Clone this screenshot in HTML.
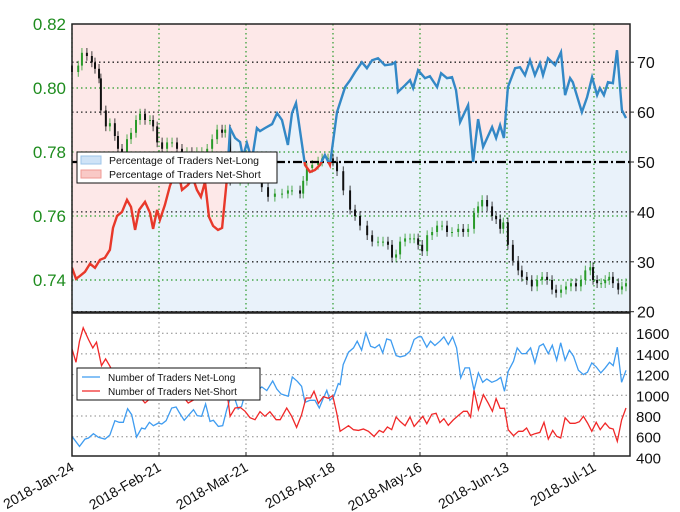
<!DOCTYPE html>
<html><head><meta charset="utf-8"><style>
body{margin:0;background:#fff}
svg{display:block;font-family:"Liberation Sans","DejaVu Sans",sans-serif}
</style></head><body>
<svg id="c" width="680" height="512" viewBox="0 0 680 512">
<defs>
<clipPath id="topClip"><rect x="72" y="24" width="558" height="288"/></clipPath>
<clipPath id="aboveHalf"><rect x="72" y="0" width="558" height="162"/></clipPath>
<clipPath id="belowHalf"><rect x="72" y="162" width="558" height="160"/></clipPath>
<clipPath id="botClip"><rect x="72" y="313" width="558" height="143"/></clipPath>
</defs>
<g id="topPanel"></g>
<g id="botPanel"></g>
</svg>
<script>
const dateLabels=["2018-Jan-24","2018-Feb-21","2018-Mar-21","2018-Apr-18","2018-May-16","2018-Jun-13","2018-Jul-11"];
const dateTickDays=[0,28,56,84,112,140,168];
const priceTicks=[0.74,0.76,0.78,0.80,0.82];
const pctTicks=[20,30,40,50,60,70];
const countTicks=[400,600,800,1000,1200,1400,1600];
const pctDays=[0,1.3,2.6,4.2,5.8,7.4,9,10.6,12.2,13.2,14.5,16.1,17.7,19,20.3,21.6,23.5,25.1,26.1,27.4,28.3,29.9,31.5,32.5,33.2,34.1,35.4,37.3,38.9,40.2,41.5,42.8,44.1,45.4,47,48.3,49.9,50.9,52.5,54.1,55,56.3,57.9,59.5,60.5,62.1,64.4,66,67.6,69.5,70.8,72.1,75,76.6,78.2,79.8,81.4,83,84,85.3,87.9,89.5,91.1,93.3,94.9,96.6,98.5,100.7,103,104,104.9,107.2,108.8,109.8,111.4,113.6,115.2,117.5,118.8,120.7,122.3,123.6,124.9,127.5,129.1,130.7,132.3,135.2,136.5,137.8,139,140.3,142.6,144.2,145.8,147.4,149,150.6,151.6,153.2,155.5,157.4,158.7,160.3,161.2,164.1,165.8,167.4,169,169.9,171.2,172.5,174.1,175.4,177,178.3];
const pctVals=[28.8,26.6,27.2,28,29.6,28.8,30.4,30.8,32.4,36.8,39.2,40,42.4,41,36.4,40.4,42,39.8,36.6,40.4,38.4,41.4,45.2,46.8,50.4,48.4,44.4,45.4,46.8,44.4,43,46,39,37.2,36.4,36.8,46.8,56.8,54.8,54,51,53.8,50.4,56.8,56.2,56.8,57.6,59.8,58.4,53.4,59.8,61.8,49.4,48,48.4,49.4,51.4,49.4,54,60,65,66.4,68,70,68.8,70.4,70.8,69.4,69.6,70,64,65.4,66.4,64.8,68.4,66.8,67.2,65,67.8,66.8,67,64.4,58,61.4,50,58.6,53,57,54.8,57.4,54.8,65,68.8,69,67.4,70.4,67.4,69.8,67.4,70.8,69.4,72,63.4,66.8,66,60,63,67,63.4,64.8,63.4,66,65.8,72.4,60.4,58.8];
const priceDays=[0,2,3.2,4.8,6.4,7.4,8.7,9.3,10.9,12.2,13.8,14.8,16.1,17.7,19,20.6,21.9,23.5,25.1,26.1,27.4,29,30.6,32.2,33.8,35.4,37,38.6,40.2,41.8,43.5,45.1,46.7,48.3,49.3,50.9,54.1,56.7,59,61.1,63.1,65.3,67.6,69.5,70.8,73.4,74.4,75.6,77.3,79.2,80.5,82.4,84,85.3,87.3,89.5,91.1,92.7,95,96.6,98.5,100.1,101.7,103,104.3,105.6,107.2,108.8,110.1,111.4,112.7,114.3,115.9,117.5,119.1,120.7,122.3,124.3,125.9,127.5,129.4,130.7,132,133.6,135.2,136.5,137.8,138.8,140.3,141.9,143.6,144.8,146.4,148,149.7,151.3,152.9,154.5,155.8,157.4,159,160.6,162.2,163.8,165.2,166.8,167.7,169,170.3,171.6,172.9,174.1,175.8,177,178.3];
const priceClose=[.805,.807,.811,.810,.808,.806,.803,.793,.788,.789,.785,.781,.780,.784,.786,.790,.792,.790,.790,.788,.783,.781,.783,.783,.781,.780,.780,.778,.780,.780,.781,.784,.787,.786,.787,.771,.771,.772,.772,.769,.766,.767,.767,.768,.768,.767,.771,.775,.776,.777,.778,.778,.777,.774,.768,.762,.760,.757,.754,.752,.752,.752,.751,.747,.748,.752,.753,.753,.753,.751,.749,.754,.755,.757,.757,.755,.755,.756,.755,.756,.761,.763,.765,.763,.760,.759,.756,.758,.751,.746,.743,.741,.740,.738,.740,.741,.740,.737,.736,.737,.738,.739,.738,.740,.743,.744,.740,.739,.739,.740,.741,.739,.737,.738,.739];
const longDays=[0,2.4,4.2,5.3,6.9,8.5,10.6,12.2,13.8,15.2,16.5,17.9,19.2,20.8,22.4,23.5,24.9,26.2,27.8,28.9,30.3,32.1,33.5,34.5,36.1,37.4,39.1,40.3,41.7,43,44.4,45.5,47.1,48.5,49.8,51.2,52.5,53.5,54.6,56.2,57.8,59.4,61.1,62.7,64.6,65.9,67.3,69.6,70.9,72.5,73.9,75,76.6,78.2,79.6,80.9,82,83,84.3,85.7,86.3,87.3,89,90.6,91.8,93.2,94.6,96.1,97.5,98.9,100,101.3,102.6,104.3,105.6,107.2,108.8,110.1,111.5,112.5,114.2,115.4,116.8,118.4,119.7,121.1,122.5,123.8,125.1,126.5,127.9,129.4,130.8,132.2,133.5,135.1,136.7,138,139.2,140.4,142.1,143.3,144.7,146.1,147.6,149,150.4,151.7,153.3,154.6,156,157.3,158.7,160.1,161.4,163,164.6,165.9,167.3,168.7,170.2,171.6,173,174.2,175.5,176.9,178.3];
const longVals=[603,506,577,587,629,594,577,616,755,739,739,871,813,597,684,674,739,706,732,723,755,877,887,835,758,803,861,803,797,916,748,758,700,706,861,997,958,868,894,1071,1048,1039,1081,1045,1139,1061,1013,990,1177,1135,1087,932,952,952,877,974,1048,952,990,1113,1103,1297,1416,1458,1523,1436,1603,1474,1458,1490,1410,1545,1532,1384,1371,1384,1426,1539,1565,1565,1465,1523,1481,1523,1565,1490,1565,1458,1168,1265,1265,1048,1216,1126,1158,1126,1145,1174,1039,1232,1329,1458,1403,1403,1458,1313,1474,1497,1403,1484,1339,1507,1339,1436,1378,1242,1200,1223,1313,1274,1216,1265,1319,1287,1465,1126,1242];
const shortDays=[0,1.3,2.4,3.6,5.3,6.7,7.9,9.5,10.8,12.2,13.8,17.6,20.8,23.5,27.3,31.5,34.8,37.4,41.2,45.5,49.8,50.9,52.5,54.1,55.7,57.3,58.9,60.5,62.1,63.7,65.7,67,69.1,70.7,72.3,73.9,75.3,76.8,77.9,79.3,80.9,82.5,83.9,85.2,86.3,87.9,89,90.6,92.2,93.8,95.4,97.2,98.9,100.2,101.5,102.9,104.3,105.6,107.2,108.8,110.1,111.5,112.9,114.2,115.8,117.2,118.4,119.7,121.1,122.7,124.4,126,127.2,128.3,129.4,130.8,132.4,134,135.3,136.5,137.8,139.2,140.4,142.1,143.7,145.1,146.3,147.6,149,150.6,151.9,153.3,154.7,156,157.3,158.7,160.3,161.9,163.3,164.6,165.9,167.3,168.7,170,171.6,173,174.2,175.5,176.9,178.3];
const shortVals=[1448,1319,1523,1652,1539,1458,1513,1287,1352,1281,1184,1150,1023,926,1023,990,1023,926,990,1023,1055,797,877,884,845,784,764,842,797,842,764,764,877,797,690,813,974,974,1039,922,987,971,997,829,652,684,706,668,661,674,652,603,661,642,694,668,790,748,706,790,700,748,797,726,816,826,736,774,710,761,806,845,845,790,1048,861,1006,923,845,968,874,874,668,610,652,652,684,613,629,642,739,577,661,603,587,784,729,729,745,797,732,652,739,668,732,684,674,555,761,877];

const NS="http://www.w3.org/2000/svg";
const X0=72,X1=630,TT=24,TB=312,BT=313,BB=456;
const xd=d=>X0+d*3.107;
const yP=v=>TT+(0.82-v)*3200;
const yR=p=>162-(p-50)*4.99;
const yN=v=>395.3-(v-1000)*0.1035;
function mk(tag,attrs,parent){const e=document.createElementNS(NS,tag);for(const k in attrs)e.setAttribute(k,attrs[k]);parent.appendChild(e);return e;}
const topG=document.getElementById('topPanel'),botG=document.getElementById('botPanel');

let bg=mk('rect',{x:X0,y:TT,width:X1-X0,height:TB-TT,fill:'#fde8e8'},topG);


let pts=pctDays.map((d,i)=>xd(d).toFixed(1)+','+yR(pctVals[i]).toFixed(1));
let fillPts=xd(pctDays[0])+','+TB+' '+pts.join(' ')+' '+X1+','+yR(pctVals[pctVals.length-1])+' '+X1+','+TB;
let fl=mk('polygon',{points:fillPts,fill:'#e9f2fa','clip-path':'url(#topClip)'},topG);


dateTickDays.forEach(d=>{let l=mk('line',{x1:xd(d),x2:xd(d),y1:TT,y2:TB,stroke:'#2a9a2a','stroke-width':1.2,'stroke-dasharray':'1.5,3'},topG);

});
priceTicks.forEach(v=>{if(v>=0.82)return;let l=mk('line',{x1:X0,x2:X1,y1:yP(v),y2:yP(v),stroke:'#2a9a2a','stroke-width':1.2,'stroke-dasharray':'1.5,3'},topG);

});
pctTicks.forEach(p=>{if(p===50)return;let l=mk('line',{x1:X0,x2:X1,y1:yR(p),y2:yR(p),stroke:'#222','stroke-width':1.3,'stroke-dasharray':'1.5,3'},topG);

});
priceClose.forEach((c,i)=>{const o=i?priceClose[i-1]:c+0.002;const x=xd(priceDays[i]);const col=c>=o?'#2a9a2a':'#111';
let w=mk('line',{x1:x,x2:x,y1:yP(Math.max(o,c)+0.0015),y2:yP(Math.min(o,c)-0.0015),stroke:col,'stroke-width':0.8},topG);


let b=mk('rect',{x:x-1,y:yP(Math.max(o,c)),width:2,height:Math.max(1,Math.abs(yP(o)-yP(c))),fill:col},topG);

});
let fifty=mk('line',{x1:X0,x2:X1,y1:yR(50),y2:yR(50),stroke:'#000','stroke-width':2.2,'stroke-dasharray':'9,3,2,3'},topG);


let pl1=mk('polyline',{points:pts.join(' '),fill:'none',stroke:'#3388c6','stroke-width':2.4,'clip-path':'url(#aboveHalf)'},topG);


let pl2=mk('polyline',{points:pts.join(' '),fill:'none',stroke:'#e8382a','stroke-width':2.4,'clip-path':'url(#belowHalf)'},topG);


let fr=mk('rect',{x:X0,y:TT,width:X1-X0,height:TB-TT,fill:'none',stroke:'#222','stroke-width':1.5},topG);


priceTicks.forEach(v=>{let t=mk('text',{x:66,y:yP(v)+6,'text-anchor':'end','font-size':17,fill:'#1e8c1e'},topG);t.textContent=v.toFixed(2);

});
pctTicks.forEach(p=>{let t=mk('text',{x:637,y:yR(p)+6,'font-size':16,fill:'#111'},topG);t.textContent=p;


let tk=mk('line',{x1:X1,x2:X1+4,y1:yR(p),y2:yR(p),stroke:'#222'},topG);

});
let lg=mk('g',{},topG);


mk('rect',{x:77,y:152,width:200,height:31,fill:'#fff',stroke:'#111','stroke-width':1},lg);
mk('rect',{x:81,y:156,width:20,height:8,fill:'#cfe3f7',stroke:'#9cc4ea'},lg);
mk('rect',{x:81,y:170,width:20,height:8,fill:'#f9c9c6',stroke:'#f09a94'},lg);
let t1=mk('text',{x:109,y:164,'font-size':10.5,fill:'#111'},lg);t1.textContent='Percentage of Traders Net-Long';


let t2=mk('text',{x:109,y:178,'font-size':10.5,fill:'#111'},lg);t2.textContent='Percentage of Traders Net-Short';



dateTickDays.forEach(d=>{let l=mk('line',{x1:xd(d),x2:xd(d),y1:BT,y2:BB,stroke:'#888','stroke-width':1,'stroke-dasharray':'1.5,3'},botG);

});
countTicks.forEach(v=>{if(v===400)return;let l=mk('line',{x1:X0,x2:X1,y1:yN(v),y2:yN(v),stroke:'#888','stroke-width':1,'stroke-dasharray':'1.5,3'},botG);

});
let lp=mk('polyline',{points:longDays.map((d,i)=>xd(d).toFixed(1)+','+yN(longVals[i]).toFixed(1)).join(' '),fill:'none',stroke:'#3f9cf0','stroke-width':1.3,'clip-path':'url(#botClip)'},botG);


let sp=mk('polyline',{points:shortDays.map((d,i)=>xd(d).toFixed(1)+','+yN(shortVals[i]).toFixed(1)).join(' '),fill:'none',stroke:'#f02828','stroke-width':1.3,'clip-path':'url(#botClip)'},botG);


let bf=mk('rect',{x:X0,y:BT,width:X1-X0,height:BB-BT,fill:'none',stroke:'#222','stroke-width':1.5},botG);


countTicks.forEach(v=>{let t=mk('text',{x:636,y:yN(v)+6,'font-size':15,fill:'#111'},botG);t.textContent=v;

});
dateTickDays.forEach((d,i)=>{let t=mk('text',{'text-anchor':'end','font-size':14,fill:'#111',transform:'translate('+(xd(d)+3)+',470) rotate(-30)'},botG);t.textContent=dateLabels[i];


let tk=mk('line',{x1:xd(d),x2:xd(d),y1:BB,y2:BB-4,stroke:'#222'},botG);

});
let lg2=mk('g',{},botG);


mk('rect',{x:77,y:368,width:183,height:32,fill:'#fff',stroke:'#111','stroke-width':1},lg2);
mk('line',{x1:82,x2:100,y1:377,y2:377,stroke:'#3f9cf0','stroke-width':1.3},lg2);
mk('line',{x1:82,x2:100,y1:391,y2:391,stroke:'#f02828','stroke-width':1.3},lg2);
let t3=mk('text',{x:108,y:381,'font-size':10,fill:'#111'},lg2);t3.textContent='Number of Traders Net-Long';


let t4=mk('text',{x:108,y:395,'font-size':10,fill:'#111'},lg2);t4.textContent='Number of Traders Net-Short';


</script>
</body></html>
